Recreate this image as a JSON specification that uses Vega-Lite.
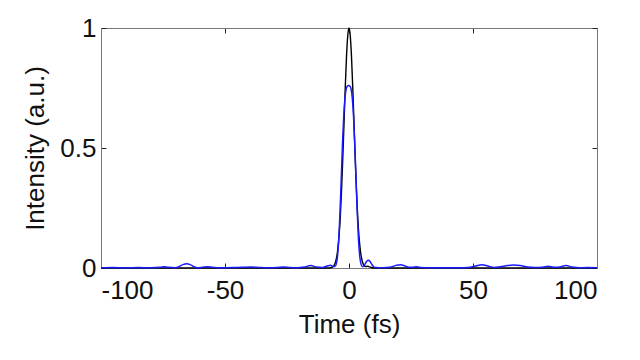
{
  "$schema": "https://vega.github.io/schema/vega-lite/v6.json",
  "autosize": "none",
  "width": 496,
  "height": 240,
  "padding": {"left": 101, "top": 28, "right": 43, "bottom": 92},
  "background": "white",
  "config": {
    "view": {"stroke": null},
    "font": "Liberation Sans",
    "axis": {
      "grid": false,
      "domainColor": "#777777",
      "domainWidth": 1,
      "tickColor": "#222222",
      "tickWidth": 1,
      "tickSize": -5,
      "labelFont": "Liberation Sans",
      "labelFontSize": 26,
      "labelColor": "#111111",
      "titleFont": "Liberation Sans",
      "titleFontSize": 26,
      "titleFontWeight": "normal",
      "titleColor": "#111111"
    }
  },
  "datasets": {
    "black": [
      {"t": -100, "I": 0}, {"t": -60, "I": 0}, {"t": -20, "I": 0}, {"t": -10, "I": 0},
      {"t": -8, "I": 0.0003}, {"t": -7, "I": 0.002}, {"t": -6, "I": 0.011}, {"t": -5.5, "I": 0.023},
      {"t": -5, "I": 0.044}, {"t": -4.5, "I": 0.08}, {"t": -4, "I": 0.135}, {"t": -3.5, "I": 0.216},
      {"t": -3, "I": 0.325}, {"t": -2.5, "I": 0.458}, {"t": -2, "I": 0.607}, {"t": -1.5, "I": 0.755},
      {"t": -1, "I": 0.882}, {"t": -0.5, "I": 0.969}, {"t": 0, "I": 1}, {"t": 0.5, "I": 0.969},
      {"t": 1, "I": 0.882}, {"t": 1.5, "I": 0.755}, {"t": 2, "I": 0.607}, {"t": 2.5, "I": 0.458},
      {"t": 3, "I": 0.325}, {"t": 3.5, "I": 0.216}, {"t": 4, "I": 0.135}, {"t": 4.5, "I": 0.08},
      {"t": 5, "I": 0.044}, {"t": 5.5, "I": 0.023}, {"t": 6, "I": 0.012}, {"t": 6.5, "I": 0.007},
      {"t": 7, "I": 0.006}, {"t": 7.5, "I": 0.007}, {"t": 8, "I": 0.006}, {"t": 9, "I": 0.002},
      {"t": 10, "I": 0}, {"t": 20, "I": 0}, {"t": 60, "I": 0}, {"t": 100, "I": 0}
    ],
    "blue": [
      {"t": -100, "I": 0.001}, {"t": -95, "I": 0.002}, {"t": -90, "I": 0.001}, {"t": -85, "I": 0.002},
      {"t": -80, "I": 0.001}, {"t": -76, "I": 0.003}, {"t": -74.5, "I": 0.005}, {"t": -73, "I": 0.003},
      {"t": -70, "I": 0.001}, {"t": -68.5, "I": 0.006}, {"t": -67, "I": 0.014}, {"t": -65.5, "I": 0.018},
      {"t": -64, "I": 0.014}, {"t": -62.5, "I": 0.005}, {"t": -61, "I": 0.001}, {"t": -59, "I": 0.003},
      {"t": -57, "I": 0.005}, {"t": -55, "I": 0.003}, {"t": -52, "I": 0.001}, {"t": -49, "I": 0.001},
      {"t": -46, "I": 0.002}, {"t": -43, "I": 0.003}, {"t": -39.5, "I": 0.004}, {"t": -36, "I": 0.002},
      {"t": -32, "I": 0.001}, {"t": -29, "I": 0.002}, {"t": -26.5, "I": 0.004}, {"t": -24, "I": 0.002},
      {"t": -21, "I": 0.001}, {"t": -18, "I": 0.004}, {"t": -15.5, "I": 0.01}, {"t": -13, "I": 0.004},
      {"t": -11, "I": 0.002}, {"t": -9.5, "I": 0.006}, {"t": -8.5, "I": 0.009}, {"t": -7.5, "I": 0.011},
      {"t": -6.8, "I": 0.009}, {"t": -6.15, "I": 0.006}, {"t": -5.65, "I": 0.006}, {"t": -5.15, "I": 0.016},
      {"t": -4.65, "I": 0.047}, {"t": -4.15, "I": 0.115}, {"t": -3.65, "I": 0.226}, {"t": -3.15, "I": 0.366},
      {"t": -2.65, "I": 0.509}, {"t": -2.15, "I": 0.628}, {"t": -1.65, "I": 0.705}, {"t": -1.15, "I": 0.745},
      {"t": -0.65, "I": 0.758}, {"t": -0.15, "I": 0.76}, {"t": 0.35, "I": 0.758}, {"t": 0.85, "I": 0.745},
      {"t": 1.35, "I": 0.705}, {"t": 1.85, "I": 0.628}, {"t": 2.35, "I": 0.509}, {"t": 2.85, "I": 0.366},
      {"t": 3.35, "I": 0.226}, {"t": 3.85, "I": 0.115}, {"t": 4.35, "I": 0.047}, {"t": 4.85, "I": 0.016},
      {"t": 5.35, "I": 0.006}, {"t": 6, "I": 0.009}, {"t": 6.5, "I": 0.017}, {"t": 7, "I": 0.026},
      {"t": 7.7, "I": 0.032}, {"t": 8.5, "I": 0.027}, {"t": 9.2, "I": 0.015}, {"t": 10, "I": 0.005},
      {"t": 11, "I": 0.002}, {"t": 13, "I": 0.001}, {"t": 15, "I": 0.002}, {"t": 17, "I": 0.004},
      {"t": 19, "I": 0.011}, {"t": 20.7, "I": 0.014}, {"t": 22.5, "I": 0.009}, {"t": 24, "I": 0.003},
      {"t": 25.5, "I": 0.003}, {"t": 27.4, "I": 0.005}, {"t": 29, "I": 0.002}, {"t": 32, "I": 0.001},
      {"t": 36, "I": 0.001}, {"t": 40, "I": 0.001}, {"t": 44, "I": 0.001}, {"t": 48, "I": 0.002},
      {"t": 51, "I": 0.008}, {"t": 53.6, "I": 0.014}, {"t": 56, "I": 0.008}, {"t": 58.5, "I": 0.002},
      {"t": 61, "I": 0.005}, {"t": 64, "I": 0.01}, {"t": 66.3, "I": 0.012}, {"t": 69, "I": 0.01},
      {"t": 72, "I": 0.004}, {"t": 75, "I": 0.002}, {"t": 78, "I": 0.003}, {"t": 80.4, "I": 0.007},
      {"t": 82.5, "I": 0.003}, {"t": 85, "I": 0.004}, {"t": 87.5, "I": 0.01}, {"t": 90, "I": 0.004},
      {"t": 93, "I": 0.001}, {"t": 96, "I": 0.002}, {"t": 100, "I": 0.001}
    ]
  },
  "layer": [
    {
      "data": {"name": "black"},
      "mark": {"type": "line", "color": "#000000", "strokeWidth": 1.4, "interpolate": "monotone"},
      "encoding": {
        "x": {"field": "t", "type": "quantitative",
              "scale": {"domain": [-100, 100], "nice": false, "zero": false},
              "axis": {"orient": "bottom", "values": [-100, -50, 0, 50, 100], "labelExpr": "datum.value + ''", "title": "Time (fs)", "labelPadding": 14, "titlePadding": 8}},
        "y": {"field": "I", "type": "quantitative",
              "scale": {"domain": [0, 1], "nice": false, "zero": false},
              "axis": {"orient": "left", "values": [0, 0.5, 1], "labelExpr": "datum.value + ''", "title": "Intensity (a.u.)", "labelPadding": 10, "titlePadding": 11}}
      }
    },
    {
      "data": {"name": "blue"},
      "mark": {"type": "line", "color": "#1a1aff", "strokeWidth": 1.5, "interpolate": "monotone"},
      "encoding": {
        "x": {"field": "t", "type": "quantitative",
              "scale": {"domain": [-100, 100], "nice": false, "zero": false},
              "axis": {"orient": "top", "values": [-100, -50, 0, 50, 100], "labels": false, "title": null}},
        "y": {"field": "I", "type": "quantitative",
              "scale": {"domain": [0, 1], "nice": false, "zero": false},
              "axis": {"orient": "right", "values": [0, 0.5, 1], "labels": false, "title": null}}
      }
    }
  ],
  "resolve": {"axis": {"x": "independent", "y": "independent"}}
}
